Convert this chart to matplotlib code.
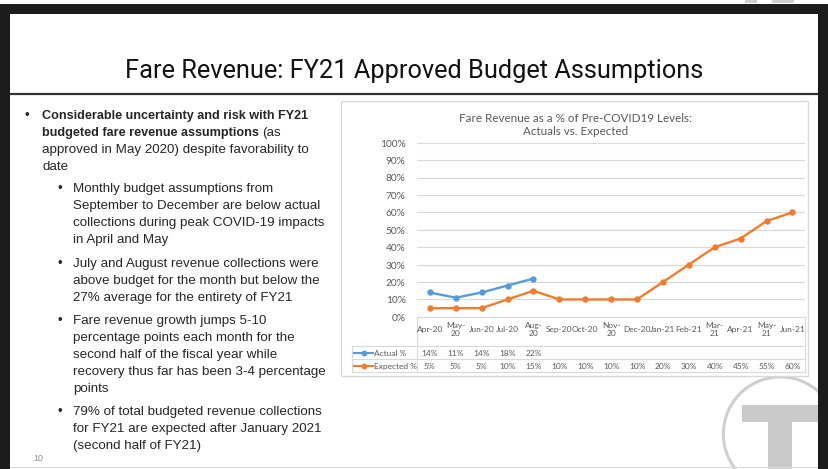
import matplotlib
matplotlib.use("Agg")
import matplotlib.pyplot as plt
from matplotlib.patches import Rectangle, Circle
from matplotlib.lines import Line2D
from matplotlib.transforms import blended_transform_factory

# ---------------- data ----------------
categories = ["Apr-20", "May-\n20", "Jun-20", "Jul-20", "Aug-\n20", "Sep-20", "Oct-20",
              "Nov-\n20", "Dec-20", "Jan-21", "Feb-21", "Mar-\n21", "Apr-21", "May-\n21", "Jun-21"]
actual_pct = [14, 11, 14, 18, 22]
expected_pct = [5, 5, 5, 10, 15, 10, 10, 10, 10, 20, 30, 40, 45, 55, 60]
y_ticks = [0, 10, 20, 30, 40, 50, 60, 70, 80, 90, 100]

slide_title = "Fare Revenue: FY21 Approved Budget Assumptions"
chart_title = "Fare Revenue as a % of Pre-COVID19 Levels:\nActuals vs. Expected"

BLUE = "#5b9bd5"
ORANGE = "#ed7d31"
GRID = "#d9d9d9"
TXT = "#595959"

W, H = 828, 469
fig = plt.figure(figsize=(8.284, 4.694), dpi=100)
fig.patch.set_facecolor("white")

bg = fig.add_axes([0, 0, 1, 1], zorder=0)
bg.set_xlim(0, W)
bg.set_ylim(H, 0)
bg.axis("off")

# ---------- logo ----------
bg.add_patch(Circle((780, 434), 57, fill=False, ec="#cfcfcf", lw=2.2, zorder=1))
bg.add_patch(Rectangle((742, 405), 76, 17, fc="#cacaca", ec="none", zorder=1))
bg.add_patch(Rectangle((768, 405), 24, 70, fc="#cacaca", ec="none", zorder=1))

# ---------- title ----------
bg.text(414, 71, slide_title, ha="center", va="center", fontsize=18.3,
        family=["Roboto", "DejaVu Sans"], color="#111111", zorder=3)
bg.add_line(Line2D([10, 818], [94.5, 94.5], color="#333333", lw=1.6, zorder=3))

# ---------- bullets ----------
BF = ["Liberation Sans", "DejaVu Sans"]
FS = 9.6
FSB = 9.1
TC = "#262626"
fig.canvas.draw()
rend = fig.canvas.get_renderer()

def put(x, y, s, bold=False):
    return bg.text(x, y, s, ha="left", va="baseline", fontsize=FSB if bold else FS, family=BF,
                   fontweight="bold" if bold else "normal", color=TC, zorder=3)

def bullet(x, y):
    bg.text(x, y, "•", ha="left", va="baseline", fontsize=FS, family=BF, color=TC, zorder=3)

bullet(24, 119)
put(42, 119, "Considerable uncertainty and risk with FY21", bold=True)
t = put(42, 136, "budgeted fare revenue assumptions", bold=True)
bb = t.get_window_extent(rend)
put(42 + bb.width + 3, 136, "(as")
put(42, 153, "approved in May 2020) despite favorability to")
put(42, 170, "date")

subs = [
    (192, ["Monthly budget assumptions from", "September to December are below actual",
           "collections during peak COVID-19 impacts", "in April and May"]),
    (267, ["July and August revenue collections were", "above budget for the month but below the",
           "27% average for the entirety of FY21"]),
    (324, ["Fare revenue growth jumps 5-10", "percentage points each month for the",
           "second half of the fiscal year while", "recovery thus far has been 3-4 percentage",
           "points"]),
    (415, ["79% of total budgeted revenue collections", "for FY21 are expected after January 2021",
           "(second half of FY21)"]),
]
for y0, lines in subs:
    bullet(57, y0)
    for i, ln in enumerate(lines):
        put(73, y0 + 17 * i, ln)

bg.text(33, 461, "10", ha="left", va="baseline", fontsize=6.5, family=BF, color="#8c8c8c", zorder=3)

# ---------- chart box ----------
bg.add_patch(Rectangle((341, 101), 467, 275, fc="white", ec="#d9d9d9", lw=1.0, zorder=2))
CF = ["Lato", "DejaVu Sans"]
bg.text(575, 125, chart_title, ha="center", va="center", fontsize=8.4, family=CF,
        color=TXT, linespacing=1.3, zorder=3)

# ---------- plot axes ----------
x0, x1 = 416.7, 805.0
ytop, ybot = 143.0, 317.0
ax = fig.add_axes([x0 / W, 1 - ybot / H, (x1 - x0) / W, (ybot - ytop) / H], zorder=4)
ax.patch.set_alpha(0)
n = len(categories)
ax.set_xlim(-0.5, n - 0.5)
ax.set_ylim(0, 100)
for s in ax.spines.values():
    s.set_visible(False)
ax.set_yticks(y_ticks)
ax.set_yticklabels([f"{v}%" for v in y_ticks], fontsize=7.3, color=TXT, family=CF)
ax.tick_params(axis="y", length=0, pad=8)
ax.set_xticks([])
ax.grid(axis="y", color=GRID, lw=0.8)
ax.set_axisbelow(True)

ax.plot(range(len(expected_pct)), expected_pct, color=ORANGE, lw=1.7, marker="o",
        ms=3.6, zorder=3, clip_on=False)
ax.plot(range(len(actual_pct)), actual_pct, color=BLUE, lw=1.7, marker="o",
        ms=3.6, zorder=4, clip_on=False)

# ---------- data table ----------
tr = blended_transform_factory(ax.transData, bg.transData)
for i, c in enumerate(categories):
    ax.text(i, 329, c, transform=tr, ha="center", va="center", fontsize=6.0,
            family=CF, color=TXT, linespacing=1.25)
for i, v in enumerate(actual_pct):
    ax.text(i, 353, f"{v}%", transform=tr, ha="center", va="center", fontsize=6.0,
            family=CF, color=TXT)
for i, v in enumerate(expected_pct):
    ax.text(i, 366, f"{v}%", transform=tr, ha="center", va="center", fontsize=6.0,
            family=CF, color=TXT)

tl = dict(color=GRID, lw=0.8, zorder=3)
bg.add_line(Line2D([x0, x1], [317, 317], **tl))
bg.add_line(Line2D([352, x1], [346, 346], **tl))
bg.add_line(Line2D([352, x1], [359.5, 359.5], **tl))
bg.add_line(Line2D([352, x1], [372.5, 372.5], **tl))
bg.add_line(Line2D([x0, x0], [317, 372.5], **tl))
bg.add_line(Line2D([x1, x1], [317, 372.5], **tl))
bg.add_line(Line2D([352, 352], [346, 372.5], **tl))

for yy, col, lab in [(353, BLUE, "Actual %"), (366, ORANGE, "Expected %")]:
    bg.add_line(Line2D([354, 373], [yy, yy], color=col, lw=1.5, zorder=4))
    bg.add_line(Line2D([363.5], [yy], color=col, marker="o", ms=3.2, lw=0, zorder=4))
    bg.text(374, yy, lab, ha="left", va="center", fontsize=6.0, family=CF, color=TXT, zorder=4)

# ---------- black frame ----------
def frect(x, y, w, h, color):
    r = Rectangle((x / W, 1 - (y + h) / H), w / W, h / H, transform=fig.transFigure,
                  fc=color, ec="none", zorder=100)
    fig.add_artist(r)

frect(0, 0, W, 4, "white")
frect(745, 0, 12, 3, "#d0d0d0")
frect(772, 0, 22, 3, "#d0d0d0")
frect(0, 4, W, 10, "#1c1c1c")
frect(0, 4, 10, H - 4, "#1c1c1c")
frect(818, 4, 10, H - 4, "#1c1c1c")
frect(10, 467, 808, 1.2, "#d8d8d8")

fig.savefig("out.png", dpi=100, facecolor="white")
